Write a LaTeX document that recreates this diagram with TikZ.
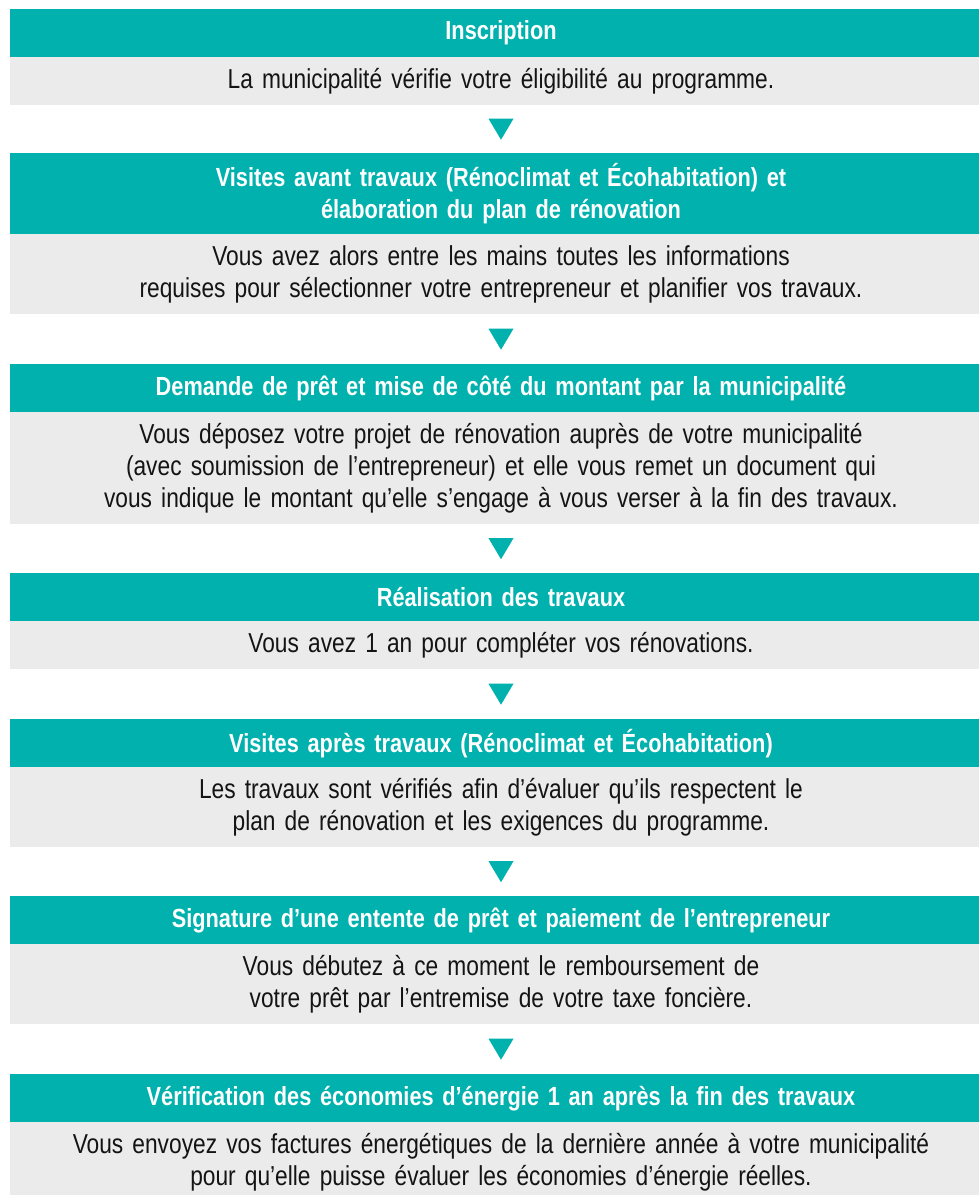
\documentclass[tikz,border=0pt]{standalone}
\usepackage{fontspec}
\setmainfont{Liberation Sans}[FakeStretch=0.83]
\usetikzlibrary{calc}
\definecolor{teal1}{RGB}{0,177,174}
\definecolor{gray1}{RGB}{235,235,235}
\definecolor{ink}{RGB}{20,20,20}
\tikzset{
  hdr/.style={fill=teal1, text=white, anchor=north, minimum width=982pt, inner sep=0pt,
    text width=960pt, align=center, font=\fontsize{26.2}{32}\selectfont\bfseries},
  bdy/.style={fill=gray1, text=ink, anchor=north, minimum width=982pt, inner sep=0pt,
    text width=960pt, align=center, font=\fontsize{27.4}{32}\selectfont},
  tri/.style={fill=teal1}
}
\begin{document}
\begin{tikzpicture}[x=1pt,y=1pt]
\useasboundingbox (0,0) rectangle (979,-1195);
\clip (0,0) rectangle (979,-1195);
\node[hdr, minimum height=48pt] (h1) at (501,-9) {Inscription};
\node[bdy, minimum height=48pt] (b1) at (501,-57) {La municipalité vérifie votre éligibilité au programme.};
\node[hdr, minimum height=81pt] (h2) at (501,-153) {Visites avant travaux (Rénoclimat et Écohabitation) et\\élaboration du plan de rénovation};
\node[bdy, minimum height=80pt] (b2) at (501,-234) {Vous avez alors entre les mains toutes les informations\\requises pour sélectionner votre entrepreneur et planifier vos travaux.};
\node[hdr, minimum height=48pt] (h3) at (501,-364) {Demande de prêt et mise de côté du montant par la municipalité};
\node[bdy, minimum height=112pt] (b3) at (501,-412) {Vous déposez votre projet de rénovation auprès de votre municipalité\\(avec soumission de l’entrepreneur) et elle vous remet un document qui\\vous indique le montant qu’elle s’engage à vous verser à la fin des travaux.};
\node[hdr, minimum height=48pt] (h4) at (501,-573) {Réalisation des travaux};
\node[bdy, minimum height=48pt] (b4) at (501,-621) {Vous avez 1 an pour compléter vos rénovations.};
\node[hdr, minimum height=48pt] (h5) at (501,-719) {Visites après travaux (Rénoclimat et Écohabitation)};
\node[bdy, minimum height=80pt] (b5) at (501,-767) {Les travaux sont vérifiés afin d’évaluer qu’ils respectent le\\plan de rénovation et les exigences du programme.};
\node[hdr, minimum height=48pt] (h6) at (501,-896) {Signature d’une entente de prêt et paiement de l’entrepreneur};
\node[bdy, minimum height=80pt] (b6) at (501,-944) {Vous débutez à ce moment le remboursement de\\votre prêt par l’entremise de votre taxe foncière.};
\node[hdr, minimum height=48pt] (h7) at (501,-1074) {Vérification des économies d’énergie 1 an après la fin des travaux};
\node[bdy, minimum height=80pt] (b7) at (501,-1122) {Vous envoyez vos factures énergétiques de la dernière année à votre municipalité\\pour qu’elle puisse évaluer les économies d’énergie réelles.};
\foreach \a/\b/\n in {b1/h2/1,b2/h3/2,b3/h4/3,b4/h5/4,b5/h6/5,b6/h7/6}{
  \coordinate (m\n) at ($(\a.south)!0.5!(\b.north)$);
  \fill[tri] ($(m\n)+(-12.5,10.5)$) -- ++(25,0) -- ++(-12.5,-21) -- cycle;
}
\end{tikzpicture}
\end{document}
